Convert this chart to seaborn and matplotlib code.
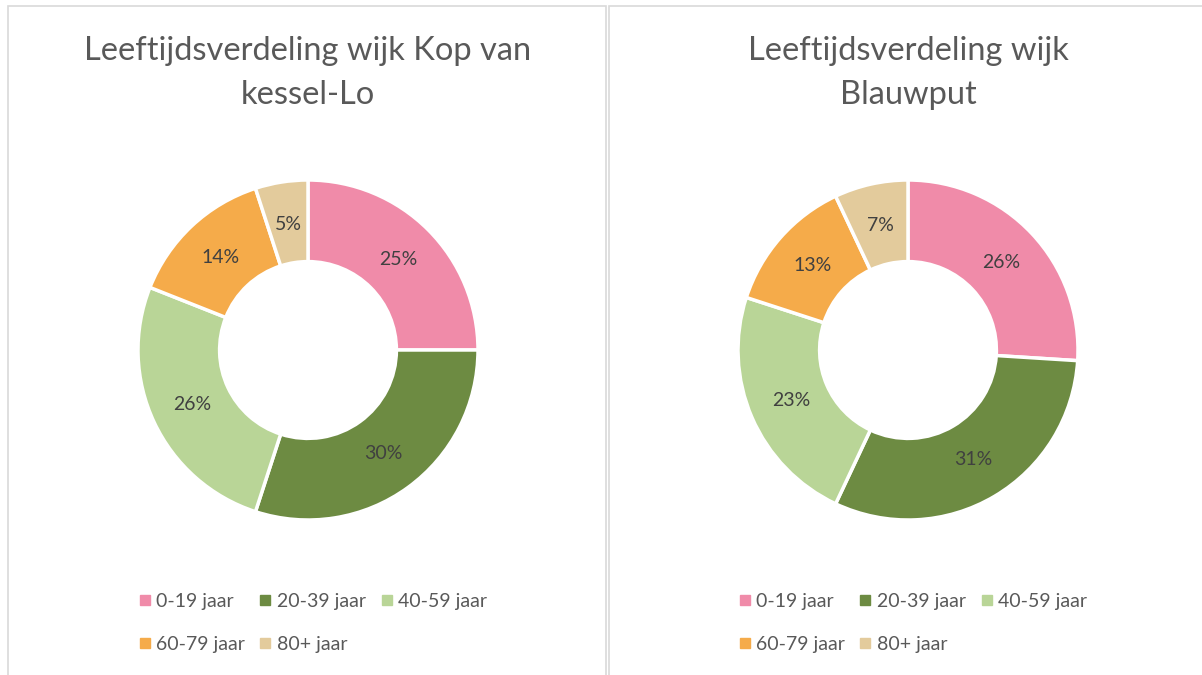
import matplotlib
matplotlib.use("Agg")
import matplotlib.pyplot as plt
from matplotlib.patches import Rectangle
from matplotlib.lines import Line2D
import seaborn as sns

# data
categories = ["0-19 jaar", "20-39 jaar", "40-59 jaar", "60-79 jaar", "80+ jaar"]
kop_van_kessel_lo = [25, 30, 26, 14, 5]
blauwput = [26, 31, 23, 13, 7]
titles = ["Leeftijdsverdeling wijk Kop van\nkessel-Lo", "Leeftijdsverdeling wijk\nBlauwput"]
colors = ["#F08BA9", "#6D8B42", "#B9D597", "#F5AB4A", "#E3CB9C"]

sns.set_theme(style="white")
plt.rcParams["font.family"] = ["Lato", "DejaVu Sans"]

W, H = 1202, 675
fig = plt.figure(figsize=(W / 100, H / 100), dpi=100)
fig.patch.set_facecolor("white")

# panel frames
for x0, x1 in [(8, 606), (609, 1210)]:
    fig.add_artist(Rectangle((x0 / W, -0.01), (x1 - x0) / W, (H - 6) / H + 0.01,
                             transform=fig.transFigure, fill=False,
                             edgecolor="#D9D9D9", linewidth=1.2))

# legend is filled column by column, so reorder to read row by row
order = [0, 3, 1, 4, 2]

def draw_donut(cx, values, title):
    cy, r = 350, 170
    ax = fig.add_axes([(cx - r) / W, (H - cy - r) / H, 2 * r / W, 2 * r / H])
    ax.pie(values, colors=colors, startangle=90, counterclock=False, radius=1,
           autopct=lambda p: f"{p:.0f}%", pctdistance=0.75,
           wedgeprops=dict(width=0.48, edgecolor="white", linewidth=2.5),
           textprops=dict(color="#404040", fontsize=14))
    ax.set_xlim(-1, 1)
    ax.set_ylim(-1, 1)
    ax.set_aspect("equal")
    ax.axis("off")
    fig.text(cx / W, 1 - 36 / H, title, ha="center", va="top", fontsize=23.5,
             color="#595959", linespacing=1.6)
    handles = [Line2D([0], [0], marker="s", linestyle="none", markersize=7,
                      markerfacecolor=c, markeredgecolor=c) for c in colors]
    fig.legend([handles[i] for i in order], [categories[i] for i in order],
               ncol=3, loc="center",
               bbox_to_anchor=((cx + 3) / W, 1 - 623 / H), frameon=False,
               fontsize=14, labelcolor="#595959",
               handletextpad=0.1, columnspacing=0.55, handlelength=1.0,
               labelspacing=1.35)

draw_donut(308, kop_van_kessel_lo, titles[0])
draw_donut(908, blauwput, titles[1])

fig.savefig("out.png", dpi=100)
